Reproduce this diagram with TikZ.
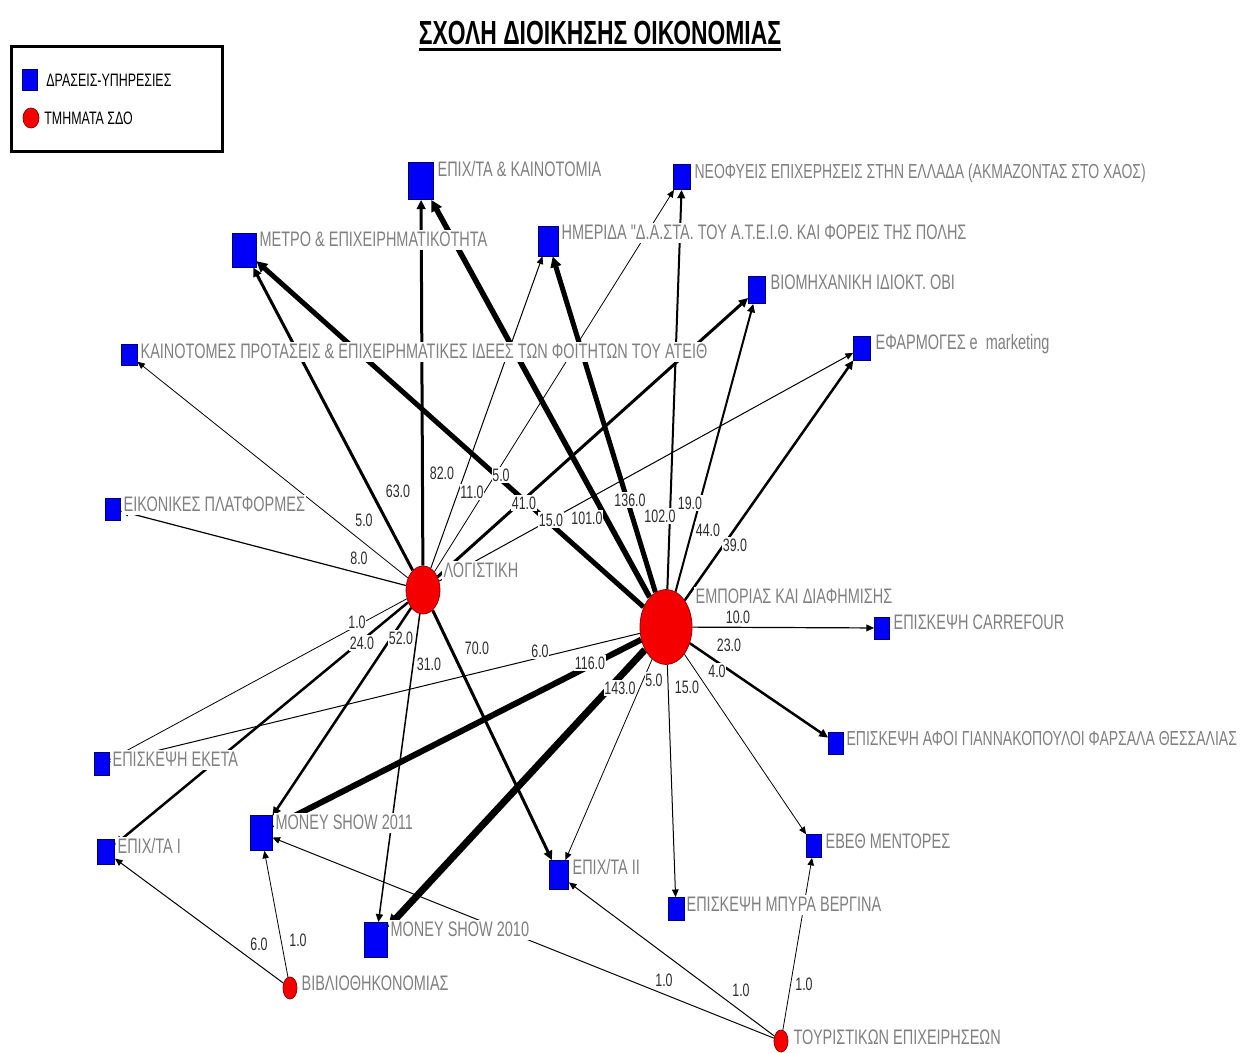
\documentclass[tikz,border=0pt]{standalone}
\usepackage{fontspec}
\setmainfont{Liberation Sans}
\newfontfamily\nodefont{Liberation Sans}[FakeStretch=0.69]
\newfontfamily\titlefont{Liberation Sans}[FakeStretch=0.685]
\usetikzlibrary{arrows.meta,shapes.geometric}
\pgfdeclarelayer{bglayer}
\pgfdeclarelayer{edgelayer}
\pgfdeclarelayer{elabellayer}
\pgfsetlayers{bglayer,edgelayer,elabellayer,main}
\definecolor{labgray}{RGB}{128,128,128}
\definecolor{numgray}{RGB}{45,45,45}
\definecolor{svcblue}{RGB}{0,0,250}
\definecolor{svcedge}{RGB}{0,0,110}
\definecolor{deptred}{RGB}{245,0,0}
\definecolor{deptedge}{RGB}{150,0,0}
\begin{document}
\begin{tikzpicture}[x=0.5pt,y=-0.5pt,
  svc/.style 2 args={rectangle, fill=svcblue, draw=svcedge, line width=0.4pt, inner sep=0pt,
    minimum width=#1*0.5pt, minimum height=#2*0.5pt},
  dept/.style 2 args={ellipse, fill=deptred, draw=deptedge, line width=0.4pt, inner sep=0pt,
    minimum width=#1*0.5pt, minimum height=#2*0.5pt},
  nlab/.style={anchor=west, fill=white, inner sep=0.6pt, text=labgray, text height=7.8pt, text depth=1pt,
    font=\nodefont\fontsize{10.5}{12}\selectfont},
  nlabs/.style={nlab, font=\nodefont\fontsize{10.15}{12}\selectfont},
  elab/.style={fill=white, inner sep=0.4pt, text=numgray, text height=6.6pt, text depth=0.4pt,
    font=\nodefont\fontsize{9}{10}\selectfont},
  leglab/.style={anchor=west, inner sep=0pt, text=black, font=\nodefont\fontsize{9}{10}\selectfont},
  tie/.style={draw=black, line width=#1*0.5pt, -{Triangle[length=3.4pt 0.8, width=2.8pt 1]}},
]
\useasboundingbox (0,0) rectangle (1242,1053);
\begin{pgfonlayer}{bglayer}
\fill[white] (0,0) rectangle (1242,1053);
\end{pgfonlayer}

% title
\node[anchor=base, inner sep=0pt, font=\titlefont\bfseries\fontsize{16.7}{18}\selectfont] (title) at (600,45) {ΣΧΟΛΗ ΔΙΟΙΚΗΣΗΣ ΟΙΚΟΝΟΜΙΑΣ};
\draw[line width=1.2pt] ([yshift=-2.3pt]title.base west) -- ([yshift=-2.3pt]title.base east);

% legend
\draw[line width=1.5pt] (11,47) rectangle (222,152);
\node[svc={15}{21}] (legsq) at (30,80) {};
\node[leglab] (legsqt) at (46,80) {ΔΡΑΣΕΙΣ-ΥΠΗΡΕΣΙΕΣ};
\node[dept={16}{20}] (legci) at (31,118) {};
\node[leglab] (legcit) at (44,118) {ΤΜΗΜΑΤΑ ΣΔΟ};

% department nodes
\node[dept={34}{48}] (dL) at (423,590) {};
\node[dept={52}{75}] (dE) at (666,627) {};
\node[dept={14}{22}] (dB) at (290,988) {};
\node[dept={14}{22}] (dT) at (781,1041) {};

% service nodes
\node[svc={25}{37}] (sEK) at (421,181) {};
\node[svc={17}{25}] (sNE) at (682,177) {};
\node[svc={24}{34}] (sME) at (244,250) {};
\node[svc={20}{30}] (sHM) at (548,241) {};
\node[svc={17}{27}] (sBI) at (757,290) {};
\node[svc={17}{24}] (sEF) at (862,348) {};
\node[svc={16}{21}] (sKP) at (129,355) {};
\node[svc={15}{22}] (sEP) at (113,509) {};
\node[svc={15}{22}] (sCA) at (882,628) {};
\node[svc={15}{22}] (sAF) at (836,743) {};
\node[svc={15}{23}] (sEKE) at (102,764) {};
\node[svc={17}{25}] (sE1) at (106,852) {};
\node[svc={22}{35}] (sM11) at (261,833) {};
\node[svc={19}{29}] (sE2) at (559,875) {};
\node[svc={15}{23}] (sEB) at (814,846) {};
\node[svc={16}{23}] (sMP) at (676,909) {};
\node[svc={23}{35}] (sM10) at (376,940) {};

% node labels
\node[nlab] (tEK) at (436,170) {ΕΠΙΧ/ΤΑ \& ΚΑΙΝΟΤΟΜΙΑ};
\node[nlabs] (tNE) at (693,172) {ΝΕΟΦΥΕΙΣ ΕΠΙΧΕΡΗΣΕΙΣ ΣΤΗΝ ΕΛΛΑΔΑ (ΑΚΜΑΖΟΝΤΑΣ ΣΤΟ ΧΑΟΣ)};
\node[nlab] (tME) at (258,240) {ΜΕΤΡΟ \& ΕΠΙΧΕΙΡΗΜΑΤΙΚΟΤΗΤΑ};
\node[nlab] (tHM) at (560,233) {ΗΜΕΡΙΔΑ "Δ.Α.ΣΤΑ. ΤΟΥ Α.Τ.Ε.Ι.Θ. ΚΑΙ ΦΟΡΕΙΣ ΤΗΣ ΠΟΛΗΣ};
\node[nlab] (tBI) at (769,283) {ΒΙΟΜΗΧΑΝΙΚΗ ΙΔΙΟΚΤ. ΟΒΙ};
\node[nlab] (tEF) at (874,343) {ΕΦΑΡΜΟΓΕΣ e\ \ marketing};
\node[nlab] (tKP) at (139,352) {ΚΑΙΝΟΤΟΜΕΣ ΠΡΟΤΑΣΕΙΣ \& ΕΠΙΧΕΙΡΗΜΑΤΙΚΕΣ ΙΔΕΕΣ ΤΩΝ ΦΟΙΤΗΤΩΝ ΤΟΥ ΑΤΕΙΘ};
\node[nlab] (tEP) at (122,505) {ΕΙΚΟΝΙΚΕΣ ΠΛΑΤΦΟΡΜΕΣ};
\node[nlab] (tL) at (442,571) {ΛΟΓΙΣΤΙΚΗ};
\node[nlab] (tE) at (694,597) {ΕΜΠΟΡΙΑΣ ΚΑΙ ΔΙΑΦΗΜΙΣΗΣ};
\node[nlab] (tCA) at (892,623) {ΕΠΙΣΚΕΨΗ CARREFOUR};
\node[nlabs] (tAF) at (845,739) {ΕΠΙΣΚΕΨΗ ΑΦΟΙ ΓΙΑΝΝΑΚΟΠΟΥΛΟΙ ΦΑΡΣΑΛΑ ΘΕΣΣΑΛΙΑΣ};
\node[nlab] (tEKE) at (111,760) {ΕΠΙΣΚΕΨΗ ΕΚΕΤΑ};
\node[nlab] (tE1) at (116,847) {ΕΠΙΧ/ΤΑ Ι};
\node[nlab] (tM11) at (274,823) {MONEY SHOW 2011};
\node[nlab] (tE2) at (571,868) {ΕΠΙΧ/ΤΑ ΙΙ};
\node[nlab] (tEB) at (824,842) {ΕΒΕΘ ΜΕΝΤΟΡΕΣ};
\node[nlab] (tMP) at (685,905) {ΕΠΙΣΚΕΨΗ ΜΠΥΡΑ ΒΕΡΓΙΝΑ};
\node[nlab] (tM10) at (389,930) {MONEY SHOW 2010};
\node[nlab] (tB) at (300,984) {ΒΙΒΛΙΟΘΗΚΟΝΟΜΙΑΣ};
\node[nlab] (tT) at (792,1038) {ΤΟΥΡΙΣΤΙΚΩΝ ΕΠΙΧΕΙΡΗΣΕΩΝ};

% edges
\begin{pgfonlayer}{edgelayer}
% from ΛΟΓΙΣΤΙΚΗ
\draw[tie=3]   (dL) -- (sEK);
\draw[tie=3]   (dL) -- (sME);
\draw[tie=0.8] (dL) -- (sKP);
\draw[tie=1.2] (dL) -- (sEP);
\draw[tie=1]   (dL) -- (sHM);
\draw[tie=0.8] (dL) -- (sNE);
\draw[tie=3]   (dL) -- (sBI);
\draw[tie=1]   (dL) -- (sEF);
\draw[tie=0.8] (dL) -- (sEKE);
\draw[tie=2.5] (dL) -- (sE1);
\draw[tie=2.5] (dL) -- (sM11);
\draw[tie=1.5] (dL) -- (sM10);
\draw[tie=3]   (dL) -- (sE2);
% from ΕΜΠΟΡΙΑΣ
\draw[tie=5]   (dE) -- (sME);
\draw[tie=5.5] (dE) -- (sEK);
\draw[tie=5]   (dE) -- (sHM);
\draw[tie=2]   (dE) -- (sNE);
\draw[tie=2]   (dE) -- (sBI);
\draw[tie=2.5] (dE) -- (sEF);
\draw[tie=1.2] (dE) -- (sCA);
\draw[tie=2.5] (dE) -- (sAF);
\draw[tie=0.8] (dE) -- (sEB);
\draw[tie=1]   (dE) -- (sMP);
\draw[tie=0.8] (dE) -- (sE2);
\draw[tie=7]   (dE) -- (sM10);
\draw[tie=6]   (dE) -- (sM11);
\draw[tie=1]   (dE) -- (sEKE);
% from ΒΙΒΛΙΟΘΗΚΟΝΟΜΙΑΣ
\draw[tie=1]   (dB) -- (sE1);
\draw[tie=0.8] (dB) -- (sM11);
% from ΤΟΥΡΙΣΤΙΚΩΝ
\draw[tie=1]   (dT) -- (sM11);
\draw[tie=1]   (dT) -- (sE2);
\draw[tie=0.8] (dT) -- (sEB);
\end{pgfonlayer}

% edge labels
\begin{pgfonlayer}{elabellayer}
\node[elab] (v1) at (442,473) {82.0};
\node[elab] (v2) at (398,491) {63.0};
\node[elab] (v3) at (364,520) {5.0};
\node[elab] (v4) at (359,558) {8.0};
\node[elab] (v5) at (472,492) {11.0};
\node[elab] (v6) at (501,475) {5.0};
\node[elab] (v7) at (524,503) {41.0};
\node[elab] (v8) at (551,520) {15.0};
\node[elab] (v9) at (357,622) {1.0};
\node[elab] (v10) at (362,643) {24.0};
\node[elab] (v11) at (401,638) {52.0};
\node[elab] (v12) at (429,664) {31.0};
\node[elab] (v13) at (477,648) {70.0};
\node[elab] (v14) at (587,518) {101.0};
\node[elab] (v15) at (630,500) {136.0};
\node[elab] (v16) at (660,516) {102.0};
\node[elab] (v17) at (690,503) {19.0};
\node[elab] (v18) at (708,530) {44.0};
\node[elab] (v19) at (735,545) {39.0};
\node[elab] (v20) at (738,617) {10.0};
\node[elab] (v21) at (729,645) {23.0};
\node[elab] (v22) at (717,671) {4.0};
\node[elab] (v23) at (687,687) {15.0};
\node[elab] (v24) at (654,680) {5.0};
\node[elab] (v25) at (620,688) {143.0};
\node[elab] (v26) at (590,663) {116.0};
\node[elab] (v27) at (540,651) {6.0};
\node[elab] (v28) at (259,944) {6.0};
\node[elab] (v29) at (298,940) {1.0};
\node[elab] (v30) at (664,980) {1.0};
\node[elab] (v31) at (741,990) {1.0};
\node[elab] (v32) at (804,984) {1.0};
\end{pgfonlayer}
\end{tikzpicture}
\end{document}
